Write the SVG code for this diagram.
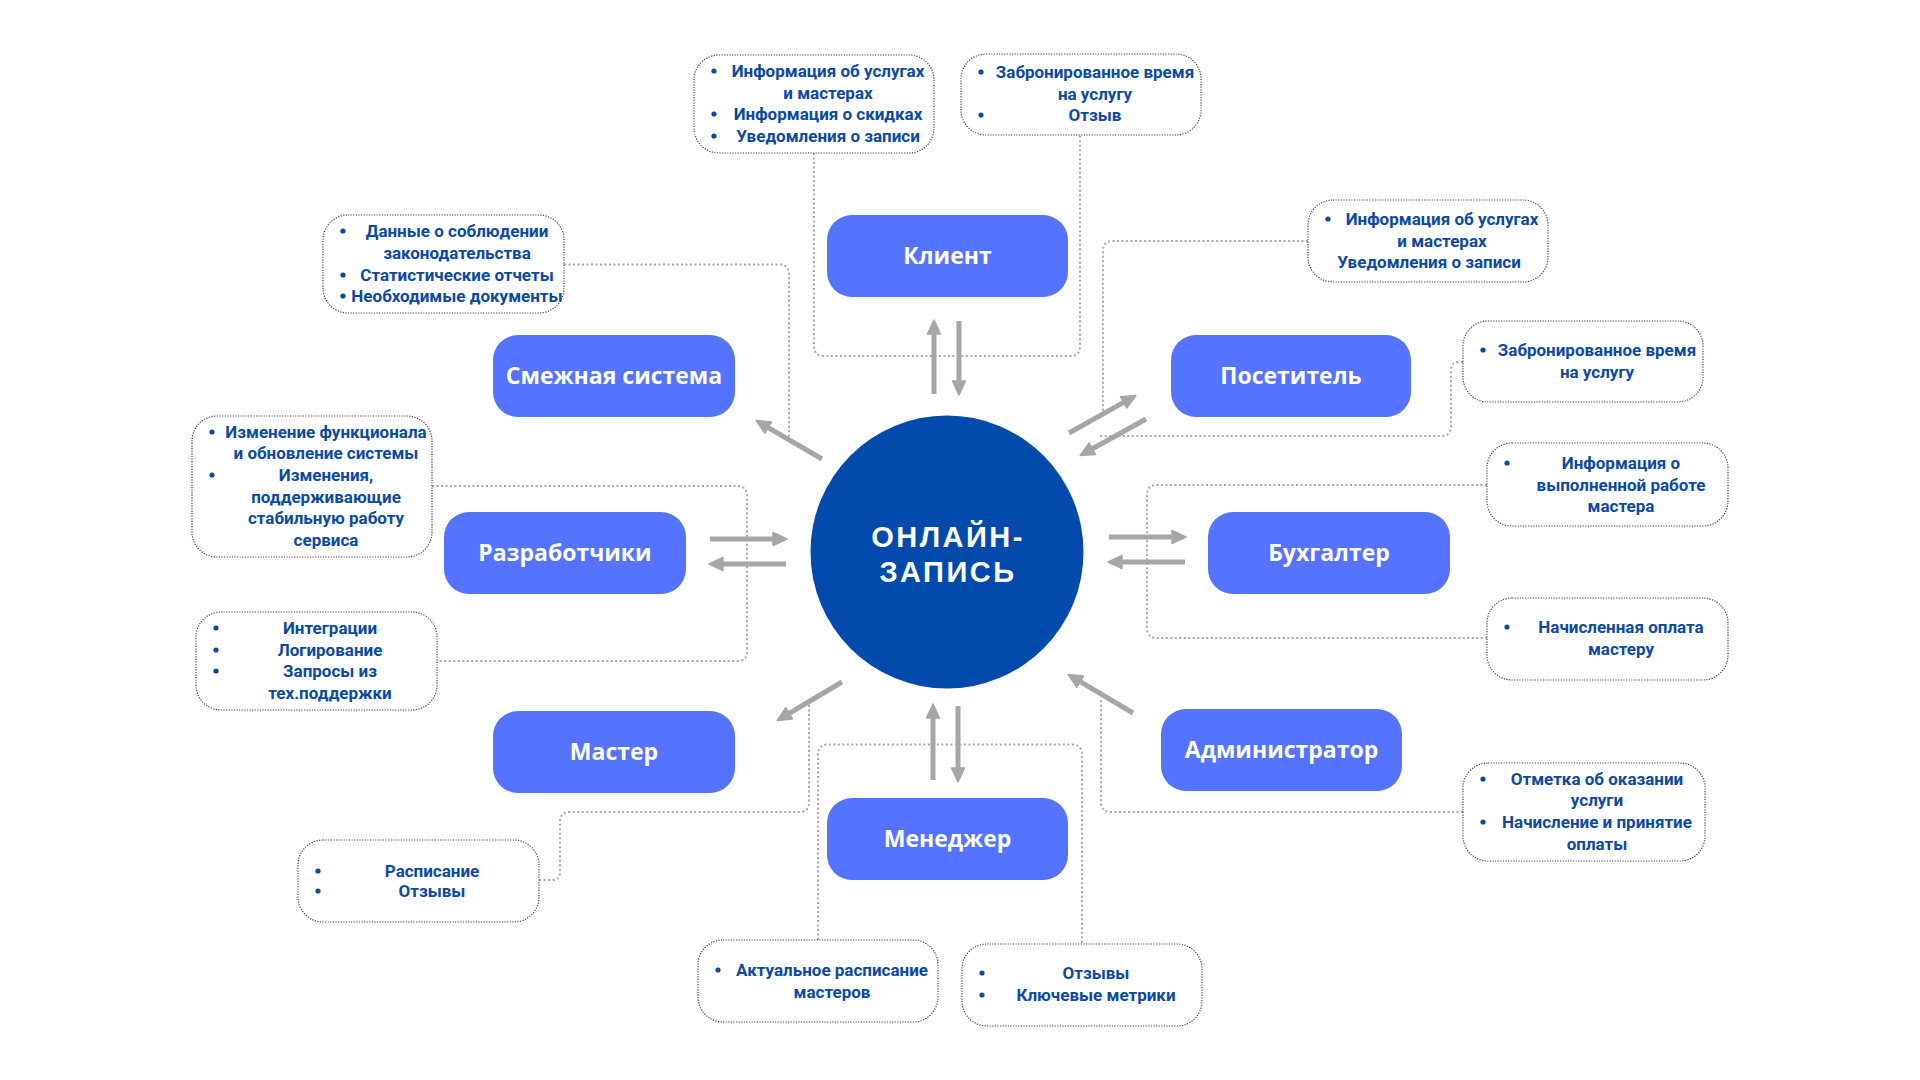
<svg xmlns="http://www.w3.org/2000/svg" width="1920" height="1080" viewBox="0 0 1920 1080">
<style>
.node rect{fill:#5473FF}
.node text{fill:#FFFFFF;font-family:"Open Sans","Liberation Sans",sans-serif;font-weight:700;font-size:23px;text-anchor:middle}
.box rect{fill:#FFFFFF;stroke:#444;stroke-width:1.2;stroke-dasharray:1.2 1.4}
.box text{fill:#0A49A4;font-family:Roboto,"Liberation Sans",sans-serif;font-weight:700;font-size:17px;text-anchor:middle}
.box circle{fill:#0A49A4}
.dot{fill:none;stroke:#A8A8A8;stroke-width:2;stroke-dasharray:2 2.5}
.arr{stroke:#A6A6A6;stroke-width:5;fill:none;marker-end:url(#ah)}
.ctext{fill:#FFFFFF;font-family:"Liberation Sans",Arial,sans-serif;font-weight:700;font-size:29px;letter-spacing:2.5px;text-anchor:middle}
</style>
<defs>
<marker id="ah" markerUnits="userSpaceOnUse" viewBox="0 0 16 16" markerWidth="16" markerHeight="16" refX="3" refY="8" orient="auto">
<path d="M1,1.5 L15,8 L1,14.5 Z" fill="#A6A6A6" stroke="#A6A6A6" stroke-width="1.5" stroke-linejoin="round"/>
</marker>
</defs>
<rect width="1920" height="1080" fill="#FFFFFF"/>
<g id="connectors">
<path class="dot" d="M814,153 V346 Q814,356 824,356 H1070 Q1080,356 1080,346 V135"/>
<path class="dot" d="M564,264.5 H779 Q789,264.5 789,274.5 V443"/>
<path class="dot" d="M1308,241 H1113 Q1103,241 1103,251 V412"/>
<path class="dot" d="M1463,362 H1459 Q1451,362 1451,370 V426 Q1451,436 1441,436 H1100"/>
<path class="dot" d="M432,486 H737 Q747,486 747,496 V651 Q747,661 737,661 H437"/>
<path class="dot" d="M1487,485 H1157 Q1147,485 1147,495 V628 Q1147,638 1157,638 H1487"/>
<path class="dot" d="M1463,812 H1111 Q1101,812 1101,802 V700"/>
<path class="dot" d="M539,880 H552 Q560,880 560,872 V822 Q560,812 570,812 H799 Q809,812 809,802 V705"/>
<path class="dot" d="M818,940 V754.5 Q818,744.5 828,744.5 H1072 Q1082,744.5 1082,754.5 V944"/>
<line class="arr" x1="934" y1="394" x2="934" y2="332"/>
<line class="arr" x1="959" y1="321" x2="959" y2="383"/>
<line class="arr" x1="1069" y1="433" x2="1125.4" y2="401.4"/>
<line class="arr" x1="1146" y1="419" x2="1090.6" y2="449.7"/>
<line class="arr" x1="822" y1="459" x2="766.5" y2="426.6"/>
<line class="arr" x1="710" y1="539" x2="775" y2="539"/>
<line class="arr" x1="786" y1="564" x2="721" y2="564"/>
<line class="arr" x1="1109" y1="537" x2="1174" y2="537"/>
<line class="arr" x1="1185" y1="562" x2="1120" y2="562"/>
<line class="arr" x1="842" y1="682" x2="787.5" y2="714.4"/>
<line class="arr" x1="1133" y1="713" x2="1078.5" y2="680.6"/>
<line class="arr" x1="933" y1="780" x2="933" y2="716"/>
<line class="arr" x1="958" y1="706" x2="958" y2="770"/>
</g>
<g id="center">
<circle cx="947" cy="552" r="136.5" fill="#034AAD"/>
<text class="ctext" x="948" y="547">ОНЛАЙН-</text>
<text class="ctext" x="948" y="582">ЗАПИСЬ</text>
</g>
<g id="klient" class="node"><rect x="827" y="215" width="241" height="82" rx="25"/><text x="947.5" y="264">Клиент</text></g>
<g id="smezhnaya" class="node"><rect x="493" y="335" width="242" height="82" rx="25"/><text x="614" y="384">Смежная система</text></g>
<g id="posetitel" class="node"><rect x="1171" y="335" width="240" height="82" rx="25"/><text x="1291" y="384">Посетитель</text></g>
<g id="razrabotchiki" class="node"><rect x="444" y="512" width="242" height="82" rx="25"/><text x="565" y="561">Разработчики</text></g>
<g id="buhgalter" class="node"><rect x="1208" y="512" width="242" height="82" rx="25"/><text x="1329" y="561">Бухгалтер</text></g>
<g id="master" class="node"><rect x="493" y="711" width="242" height="82" rx="25"/><text x="614" y="760">Мастер</text></g>
<g id="administrator" class="node"><rect x="1161" y="709" width="241" height="82" rx="25"/><text x="1281.5" y="758">Администратор</text></g>
<g id="menedzher" class="node"><rect x="827" y="798" width="241" height="82" rx="25"/><text x="947.5" y="847">Менеджер</text></g>
<g id="box-klient-1" class="box"><rect x="694" y="55" width="240" height="98" rx="25"/>
<circle cx="714" cy="71" r="2.6"/><circle cx="714" cy="114" r="2.6"/><circle cx="714" cy="136" r="2.6"/>
<text x="828" y="77">Информация об услугах</text><text x="828" y="99">и мастерах</text><text x="828" y="120">Информация о скидках</text><text x="828" y="142">Уведомления о записи</text></g>
<g id="box-klient-2" class="box"><rect x="961" y="54" width="240" height="81" rx="25"/>
<circle cx="981" cy="72" r="2.6"/><circle cx="981" cy="115" r="2.6"/>
<text x="1095" y="78">Забронированное время</text><text x="1095" y="100">на услугу</text><text x="1095" y="121">Отзыв</text></g>
<g id="box-smezhnaya" class="box"><rect x="323" y="215" width="241" height="98" rx="25"/>
<circle cx="343" cy="231" r="2.6"/><circle cx="343" cy="275" r="2.6"/><circle cx="343" cy="296" r="2.6"/>
<text x="457" y="237">Данные о соблюдении</text><text x="457" y="259">законодательства</text><text x="457" y="281">Статистические отчеты</text><text x="457" y="302">Необходимые документы</text></g>
<g id="box-posetitel-1" class="box"><rect x="1308" y="200" width="240" height="82" rx="25"/>
<circle cx="1328" cy="219" r="2.6"/>
<text x="1442" y="225">Информация об услугах</text><text x="1442" y="247">и мастерах</text><text x="1429" y="268">Уведомления о записи</text></g>
<g id="box-posetitel-2" class="box"><rect x="1463" y="321" width="240" height="81" rx="25"/>
<circle cx="1483" cy="350" r="2.6"/>
<text x="1597" y="356">Забронированное время</text><text x="1597" y="378">на услугу</text></g>
<g id="box-razrab-1" class="box"><rect x="192" y="416" width="240" height="141" rx="25"/>
<circle cx="212" cy="432" r="2.6"/><circle cx="212" cy="475" r="2.6"/>
<text x="326" y="438">Изменение функционала</text><text x="326" y="459">и обновление системы</text><text x="326" y="481">Изменения,</text><text x="326" y="503">поддерживающие</text><text x="326" y="524">стабильную работу</text><text x="326" y="546">сервиса</text></g>
<g id="box-razrab-2" class="box"><rect x="196" y="612" width="241" height="98" rx="25"/>
<circle cx="216" cy="628" r="2.6"/><circle cx="216" cy="650" r="2.6"/><circle cx="216" cy="671" r="2.6"/>
<text x="330" y="634">Интеграции</text><text x="330" y="656">Логирование</text><text x="330" y="677">Запросы из</text><text x="330" y="699">тех.поддержки</text></g>
<g id="box-buh-1" class="box"><rect x="1487" y="443" width="241" height="83" rx="25"/>
<circle cx="1507" cy="463" r="2.6"/>
<text x="1621" y="469">Информация о</text><text x="1621" y="491">выполненной работе</text><text x="1621" y="512">мастера</text></g>
<g id="box-buh-2" class="box"><rect x="1487" y="598" width="241" height="82" rx="25"/>
<circle cx="1507" cy="627" r="2.6"/>
<text x="1621" y="633">Начисленная оплата</text><text x="1621" y="655">мастеру</text></g>
<g id="box-admin" class="box"><rect x="1463" y="763" width="242" height="98" rx="25"/>
<circle cx="1483" cy="779" r="2.6"/><circle cx="1483" cy="822" r="2.6"/>
<text x="1597" y="785">Отметка об оказании</text><text x="1597" y="806">услуги</text><text x="1597" y="828">Начисление и принятие</text><text x="1597" y="850">оплаты</text></g>
<g id="box-master" class="box"><rect x="298" y="840" width="241" height="82" rx="25"/>
<circle cx="318" cy="871" r="2.6"/><circle cx="318" cy="891" r="2.6"/>
<text x="432" y="877">Расписание</text><text x="432" y="897">Отзывы</text></g>
<g id="box-menedzher-1" class="box"><rect x="698" y="940" width="240" height="82" rx="25"/>
<circle cx="718" cy="970" r="2.6"/>
<text x="832" y="976">Актуальное расписание</text><text x="832" y="998">мастеров</text></g>
<g id="box-menedzher-2" class="box"><rect x="962" y="944" width="240" height="82" rx="25"/>
<circle cx="982" cy="973" r="2.6"/><circle cx="982" cy="995" r="2.6"/>
<text x="1096" y="979">Отзывы</text><text x="1096" y="1001">Ключевые метрики</text></g>
</svg>
